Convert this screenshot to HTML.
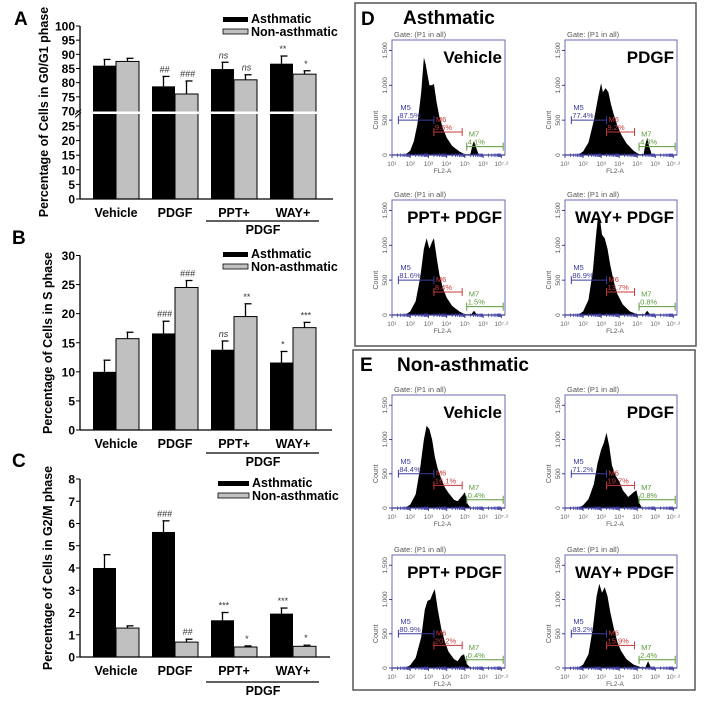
<!DOCTYPE html>
<html><head><meta charset="utf-8">
<style>
html,body{margin:0;padding:0;background:#fff;}
svg{display:block;font-family:"Liberation Sans",Arial,sans-serif;}
</style></head>
<body>
<svg id="fig" width="704" height="705" viewBox="0 0 704 705" xmlns="http://www.w3.org/2000/svg">
<rect x="0" y="0" width="704" height="705" fill="#fff"/>
</svg>
<script>
// ---------- Bar chart data ----------
const categories = ["Vehicle","PDGF","PPT+","WAY+"];
const aAsth = [86, 78.7, 84.8, 86.7];
const aAsthErr = [88.2, 82.2, 87.2, 89.4];
const aNon = [87.5, 76, 81, 83];
const aNonErr = [88.6, 80.6, 82.8, 84.2];
const aAsthNote = ["", "##", "ns", "**"];
const aNonNote = ["", "###", "ns", "*"];
const aTicks = [0,5,10,15,20,25,70,75,80,85,90,95,100];

const bAsth = [10, 16.6, 13.8, 11.6];
const bAsthErr = [12, 18.7, 15.3, 13.5];
const bNon = [15.7, 24.5, 19.5, 17.6];
const bNonErr = [16.8, 25.7, 21.7, 18.5];
const bAsthNote = ["", "###", "ns", "*"];
const bNonNote = ["", "###", "**", "***"];
const bTicks = [0,5,10,15,20,25,30];

const cAsth = [4.0, 5.62, 1.65, 1.95];
const cAsthErr = [4.6, 6.12, 2.0, 2.2];
const cNon = [1.3, 0.67, 0.45, 0.48];
const cNonErr = [1.4, 0.8, 0.5, 0.53];
const cAsthNote = ["", "###", "***", "***"];
const cNonNote = ["", "##", "*", "*"];
const cTicks = [0,1,2,3,4,5,6,7,8];

// ---------- Histogram data (log10 FL2-A, count) ----------
const hD1x = [1.7,2.0,2.2,2.4,2.6,2.75,2.85,2.95,3.05,3.2,3.3,3.45,3.6,3.8,4.0,4.3,4.7,5.0,5.3,5.42,5.5,5.6,5.75,6.0];
const hD1y = [0,60,200,450,900,1400,1300,1150,1000,1000,1020,750,550,380,250,130,50,10,10,150,200,120,10,0];
const hD2x = [1.7,2.0,2.3,2.6,2.85,3.0,3.1,3.25,3.4,3.55,3.7,3.9,4.1,4.4,4.8,5.1,5.35,5.45,5.55,5.65,5.8,6.0];
const hD2y = [0,50,180,500,850,1030,900,960,900,720,580,420,300,170,60,10,10,150,250,130,10,0];
const hD3x = [1.7,2.0,2.3,2.55,2.75,2.9,3.05,3.2,3.3,3.45,3.6,3.8,4.0,4.3,4.7,5.0,5.35,5.5,5.65,6.0];
const hD3y = [0,50,200,550,950,1100,950,1050,1100,820,580,380,250,130,50,10,10,60,10,0];
const hD4x = [1.7,2.0,2.3,2.55,2.72,2.85,2.95,3.05,3.2,3.35,3.5,3.7,3.9,4.2,4.6,5.0,5.4,5.55,5.7,6.0];
const hD4y = [0,50,220,650,1150,1470,1350,1150,1100,950,720,480,300,150,50,10,10,60,10,0];
const hE1x = [1.7,2.0,2.3,2.55,2.75,2.9,3.05,3.2,3.35,3.5,3.7,3.9,4.1,4.4,4.6,4.85,5.0,5.15,5.3,5.6];
const hE1y = [0,50,200,600,1000,1200,1150,1000,750,580,430,300,220,120,100,180,230,60,5,0];
const hE2x = [1.7,2.0,2.3,2.6,2.8,3.0,3.15,3.3,3.45,3.6,3.8,4.0,4.2,4.5,4.8,4.95,5.1,5.25,5.5];
const hE2y = [0,40,130,350,650,850,950,1100,900,620,470,390,260,160,230,260,80,5,0];
const hE3x = [1.7,2.0,2.3,2.6,2.8,2.95,3.1,3.25,3.35,3.5,3.7,3.9,4.1,4.4,4.6,4.8,4.95,5.1,5.3,5.6];
const hE3y = [0,40,150,450,850,980,1000,1100,1150,870,580,380,240,130,100,180,200,60,5,0];
const hE4x = [1.7,2.0,2.3,2.55,2.75,2.9,3.05,3.2,3.35,3.5,3.7,3.9,4.1,4.4,4.8,5.2,5.45,5.6,5.75,6.0];
const hE4y = [0,50,200,600,1050,1230,1100,1180,1050,820,580,380,250,130,50,10,10,100,10,0];
const hTitles = ["Vehicle","PDGF","PPT+ PDGF","WAY+ PDGF","Vehicle","PDGF","PPT+ PDGF","WAY+ PDGF"];
const hM5 = ["87.5%","77.4%","81.6%","86.9%","84.4%","71.2%","80.9%","83.2%"];
const hM6 = ["9.5%","9.2%","8.4%","13.7%","16.1%","19.7%","20.2%","15.9%"];
const hM7 = ["4.1%","4.3%","1.5%","0.8%","0.4%","0.8%","0.4%","2.4%"];

const NS = "http://www.w3.org/2000/svg";
const svg = document.getElementById('fig');
function el(tag, attrs, parent, text){
  const e = document.createElementNS(NS, tag);
  for (const k in attrs) e.setAttribute(k, attrs[k]);
  if (text !== undefined) e.textContent = text;
  (parent || svg).appendChild(e);
  return e;
}

// ---------- Bar chart builder ----------
function barChart(o){
  const g = el('g', {});
  
  
  const x0 = 80, x1 = o.axisEnd, yb = o.base;
  const groupLeft = [93, 152, 211, 270];
  const bw = 23;
  for (let i = 0; i < categories.length; i++){
    const xa = groupLeft[i], xn = groupLeft[i] + bw;
    const ya = o.y(o.asth[i]), yn = o.y(o.non[i]);
    const ra = el('rect', {x:xa, y:ya, width:bw, height:yb-ya, fill:'#000'}, g);
    
    
    const rn = el('rect', {x:xn, y:yn, width:bw, height:yb-yn, fill:'#c0c0c0', stroke:'#000', 'stroke-width':1}, g);
    
    
    const ca = xa + bw/2, cn = xn + bw/2;
    const ea = o.y(o.asthErr[i]), en = o.y(o.nonErr[i]);
    el('line', {x1:ca, y1:ya, x2:ca, y2:ea, stroke:'#000', 'stroke-width':1.3}, g);
    el('line', {x1:ca-1, y1:ea, x2:ca+6, y2:ea, stroke:'#000', 'stroke-width':1.3}, g);
    el('line', {x1:cn, y1:yn, x2:cn, y2:en, stroke:'#000', 'stroke-width':1.3}, g);
    el('line', {x1:cn-1, y1:en, x2:cn+6, y2:en, stroke:'#000', 'stroke-width':1.3}, g);
    if (o.asthNote[i]){
      const t = el('text', {x:ca+1, y:ea-4, 'font-size':9, 'font-style':'italic', 'text-anchor':'middle', fill:'#333'}, g, o.asthNote[i]);
      
      
    }
    if (o.nonNote[i]){
      const t = el('text', {x:cn+1, y:en-4, 'font-size':9, 'font-style':'italic', 'text-anchor':'middle', fill:'#333'}, g, o.nonNote[i]);
      
      
    }
    const cl = el('text', {x:groupLeft[i]+bw, y:o.labY, 'font-size':12.5, 'font-weight':'bold', 'text-anchor':'middle'}, g, categories[i]);
    
    
  }
  if (o.brk){
    el('rect', {x:x0+1, y:o.brk-1, width:x1-x0, height:2.5, fill:'#fff'}, g);
    el('line', {x1:x0-5, y1:o.brk+2, x2:x0+1, y2:o.brk-3, stroke:'#000', 'stroke-width':1}, g);
    el('line', {x1:x0-5, y1:o.brk+5, x2:x0+1, y2:o.brk, stroke:'#000', 'stroke-width':1}, g);
  }
  const yTop = o.y(o.ticks[o.ticks.length-1]);
  const ya = el('line', {x1:x0, y1:yTop, x2:x0, y2:yb, stroke:'#000', 'stroke-width':1.3}, g);
  
  
  const xa = el('line', {x1:x0, y1:yb, x2:x1, y2:yb, stroke:'#000', 'stroke-width':1.3}, g);
  
  
  o.ticks.forEach(v => {
    const yy = o.y(v);
    el('line', {x1:x0-4, y1:yy, x2:x0, y2:yy, stroke:'#000', 'stroke-width':1}, g);
    const t = el('text', {x:x0-5, y:yy+4.5, 'font-size':12, 'font-weight':'bold', 'text-anchor':'end'}, g, String(v));
    
    
  });
  const yt = el('text', {x:0, y:0, 'font-size':12.5, 'font-weight':'bold', 'text-anchor':'middle', transform:`translate(${o.titleX},${o.titleY}) rotate(-90)`}, g, o.title);
  
  
  el('line', {x1:206, y1:o.lineY, x2:319, y2:o.lineY, stroke:'#000', 'stroke-width':1.2}, g);
  const pl = el('text', {x:263, y:o.lineY+13, 'font-size':12.5, 'font-weight':'bold', 'text-anchor':'middle'}, g, 'PDGF');
  
  
  const lg = el('g', {}, g);
  
  
  el('rect', {x:o.legX, y:o.legY, width:o.legW, height:5, fill:'#000'}, lg);
  el('text', {x:o.legX+o.legW+3, y:o.legY+6, 'font-size':12.5, 'font-weight':'bold'}, lg, 'Asthmatic');
  el('rect', {x:o.legX, y:o.legY+12, width:o.legW, height:5, fill:'#c0c0c0', stroke:'#000', 'stroke-width':0.8}, lg);
  el('text', {x:o.legX+o.legW+3, y:o.legY+19, 'font-size':12.5, 'font-weight':'bold'}, lg, 'Non-asthmatic');
  const pl2 = el('text', {x:o.letterX, y:o.letterY, 'font-size':19, 'font-weight':'bold'}, g, o.letter);
  
  
}

function yA(v){ return v >= 70 ? 111 - (v-70)*(85/30) : (v <= 25 ? 199 - v*(73/25) : 111 + (70-v)*(15/45)); }
function yB(v){ return 430 - v*(174.5/30); }
function yC(v){ return 657 - v*(178/8); }

barChart({name:'chart-a-g0g1', y:yA, base:199, axisEnd:333, asth:aAsth, asthErr:aAsthErr, non:aNon, nonErr:aNonErr,
  asthNote:aAsthNote, nonNote:aNonNote, ticks:aTicks, brk:112.5, labY:217, lineY:221, title:'Percentage of Cells in G0/G1 phase', titleX:48, titleY:112,
  legX:223, legY:17, legW:25, letter:'A', letterX:14, letterY:25});
barChart({name:'chart-b-s-phase', y:yB, base:430, axisEnd:332, asth:bAsth, asthErr:bAsthErr, non:bNon, nonErr:bNonErr,
  asthNote:bAsthNote, nonNote:bNonNote, ticks:bTicks, brk:0, labY:448, lineY:453, title:'Percentage of Cells in S phase', titleX:52, titleY:343,
  legX:223, legY:252, legW:25, letter:'B', letterX:12, letterY:244});
barChart({name:'chart-c-g2m-phase', y:yC, base:657, axisEnd:330, asth:cAsth, asthErr:cAsthErr, non:cNon, nonErr:cNonErr,
  asthNote:cAsthNote, nonNote:cNonNote, ticks:cTicks, brk:0, labY:675, lineY:682, title:'Percentage of Cells in G2/M phase', titleX:52, titleY:568,
  legX:218, legY:481, legW:31, letter:'C', letterX:12, letterY:467});

// ---------- Flow cytometry panels ----------
function panelBox(x,y,w,h,name){
  const r = el('rect', {x:x, y:y, width:w, height:h, fill:'none', stroke:'#555', 'stroke-width':1.5});
  
  
}
panelBox(355,3,341,343,'panel-d-box');
panelBox(353,350,342,340,'panel-e-box');
let t;
t = el('text', {x:361, y:25, 'font-size':19, 'font-weight':'bold'}, svg, 'D');
 
t = el('text', {x:403, y:24, 'font-size':19, 'font-weight':'bold'}, svg, 'Asthmatic');
 
t = el('text', {x:360, y:371, 'font-size':19, 'font-weight':'bold'}, svg, 'E');
 
t = el('text', {x:397, y:371, 'font-size':19, 'font-weight':'bold'}, svg, 'Non-asthmatic');
 

const histX = [hD1x,hD2x,hD3x,hD4x,hE1x,hE2x,hE3x,hE4x];
const histY = [hD1y,hD2y,hD3y,hD4y,hE1y,hE2y,hE3y,hE4y];
const frames = [[392,505,40,155],[565,677,40,155],[392,505,200,315],[565,677,200,315],
                [392,505,395,508],[565,677,395,508],[392,505,555,668],[565,677,555,668]];
const BLUE = '#3c3ca0', RED = '#c83a3a', GREEN = '#5a9a3a';

for (let p = 0; p < 8; p++){
  const [L,R,T,B] = frames[p];
  const g = el('g', {});
  
  
  const sx = v => L + (v-1)*(R-L)/6.2;
  const sy = c => B - c*(B-T)/1650;
  let d = `M${sx(histX[p][0])},${B}`;
  for (let i = 0; i < histX[p].length; i++){
    d += ` L${sx(histX[p][i]).toFixed(1)},${sy(histY[p][i]).toFixed(1)}`;
  }
  d += ` L${sx(histX[p][histX[p].length-1])},${B} Z`;
  const hp = el('path', {d:d, fill:'#000'}, g);
  
  
  el('rect', {x:L, y:T, width:R-L, height:B-T, fill:'none', stroke:'#6a6ab0', 'stroke-width':1}, g);
  [0,500,1000,1500].forEach(c => {
    el('line', {x1:L-3, y1:sy(c), x2:L, y2:sy(c), stroke:BLUE, 'stroke-width':1}, g);
    const lbl = c === 0 ? '0' : c.toLocaleString('en-US');
    el('text', {x:0, y:0, 'font-size':6.5, fill:'#555', 'text-anchor':'middle', transform:`translate(${L-5},${sy(c)}) rotate(-90)`}, g, lbl);
  });
  el('text', {x:0, y:0, 'font-size':7, fill:'#555', 'text-anchor':'middle', transform:`translate(${L-14},${sy(500)}) rotate(-90)`}, g, 'Count');
  for (let dec = 1; dec <= 7; dec++){
    el('line', {x1:sx(dec), y1:B, x2:sx(dec), y2:B+3, stroke:BLUE, 'stroke-width':1}, g);
    for (let m = 2; m < 10; m++){
      const lv = dec + Math.log10(m);
      if (lv <= 7.2) el('line', {x1:sx(lv), y1:B-1.5, x2:sx(lv), y2:B+2, stroke:BLUE, 'stroke-width':0.8}, g);
    }
    el('text', {x:sx(dec), y:B+11, 'font-size':6.5, fill:'#666', 'text-anchor':'middle'}, g, dec === 7 ? '10⁷·²' : '10' + '¹²³⁴⁵⁶'[dec-1]);
  }
  el('line', {x1:L, y1:B, x2:R, y2:B, stroke:BLUE, 'stroke-width':1.2}, g);
  el('text', {x:(L+R)/2-6, y:B+18, 'font-size':6.5, fill:'#555', 'text-anchor':'middle'}, g, 'FL2-A');
  const gl = el('text', {x:L+2, y:T-3, 'font-size':7.5, fill:'#555'}, g, 'Gate: (P1 in all)');
  
  
  const ti = el('text', {x:R-3, y:T+23, 'font-size':17, 'font-weight':'bold', 'text-anchor':'end'}, g, hTitles[p]);
  
  
  const markers = [[1.35,3.3,500,'M5',hM5[p],BLUE],[3.3,4.85,330,'M6',hM6[p],RED],[5.1,7.1,120,'M7',hM7[p],GREEN]];
  markers.forEach(m => {
    const [a,b,c,nm,pc,col] = m;
    const yy = sy(c);
    const mg = el('g', {}, g);
    
    
    el('line', {x1:sx(a), y1:yy, x2:sx(b), y2:yy, stroke:col, 'stroke-width':1}, mg);
    el('line', {x1:sx(a), y1:yy-4, x2:sx(a), y2:yy+4, stroke:col, 'stroke-width':1}, mg);
    el('line', {x1:sx(b), y1:yy-4, x2:sx(b), y2:yy+4, stroke:col, 'stroke-width':1}, mg);
    el('text', {x:sx(a)+2, y:yy-10, 'font-size':7.5, fill:col}, mg, nm);
    el('text', {x:sx(a)+1, y:yy-2, 'font-size':7.5, fill:col}, mg, pc);
  });
}
</script>
</body></html>
